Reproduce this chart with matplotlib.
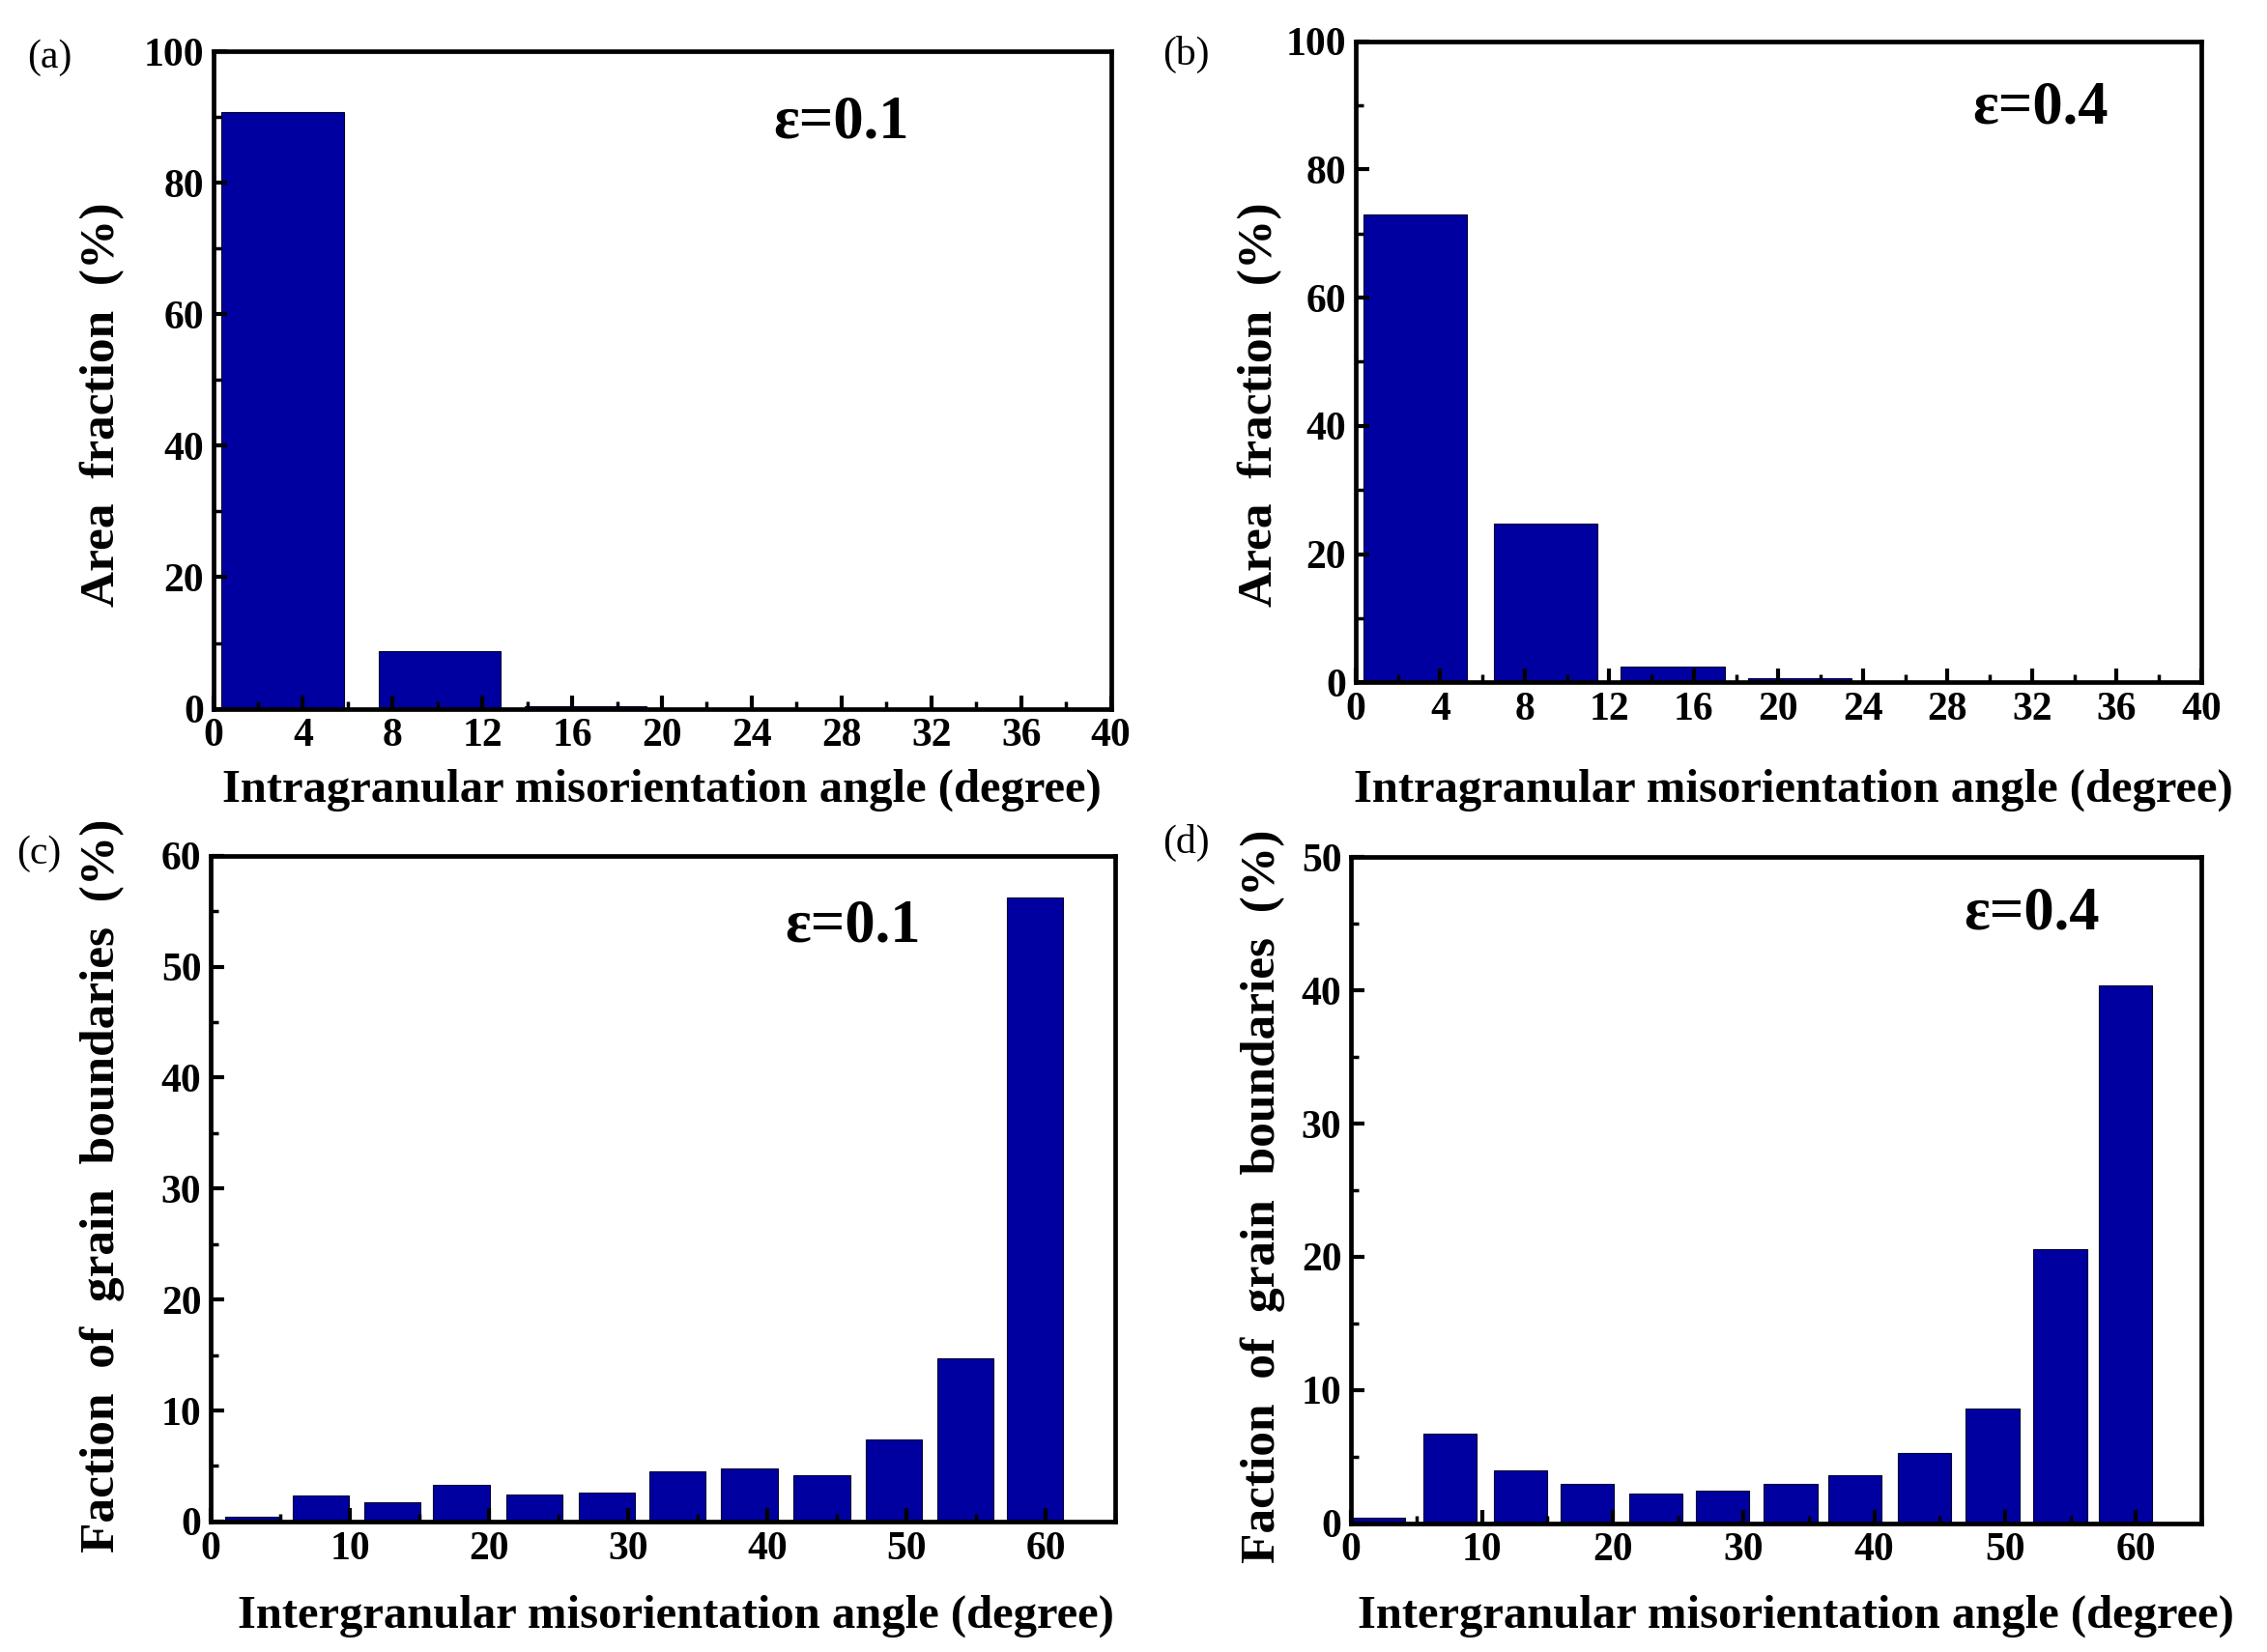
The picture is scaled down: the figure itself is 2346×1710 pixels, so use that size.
import matplotlib
matplotlib.use("Agg")
import matplotlib.pyplot as plt
from matplotlib.ticker import MultipleLocator

plt.rcParams['font.family'] = ['Liberation Serif', 'DejaVu Serif']

# ---- data ----
a_centers = [3.1, 10.1, 16.6]
a_values = [90.7, 8.7, 0.4]

b_centers = [2.8, 9.0, 15.0, 21.0]
b_values = [73.0, 24.8, 2.5, 0.6]

c_centers = [3.05, 7.9, 13.05, 18.0, 23.25, 28.45, 33.55, 38.7, 43.9, 49.1, 54.2, 59.2]
c_values = [0.4, 2.35, 1.7, 3.3, 2.45, 2.6, 4.5, 4.75, 4.2, 7.35, 14.7, 56.2]

d_centers = [2.05, 7.55, 12.95, 18.05, 23.3, 28.4, 33.6, 38.5, 43.85, 49.05, 54.2, 59.2]
d_values = [0.4, 6.75, 3.97, 2.97, 2.25, 2.45, 2.97, 3.57, 5.25, 8.6, 20.55, 40.4]

panel_labels = ['(a)', '(b)', '(c)', '(d)']
annotations = ['ε=0.1', 'ε=0.4', 'ε=0.1', 'ε=0.4']
xlabel_intra = 'Intragranular misorientation angle (degree)'
xlabel_inter = 'Intergranular misorientation angle (degree)'
ylabel_area = 'Area  fraction  (%)'
ylabel_gb = 'Faction  of  grain  boundaries  (%)'

BAR = '#0000A0'

fig = plt.figure(figsize=(23.46, 17.10), dpi=100)

specs = [
    # rect, centers, values, width, xlim, ylim, xmaj, xmin, ymaj, ymin, ann_pos
    ([0.094, 0.571, 0.396, 0.398], a_centers, a_values, 5.45, (0, 40), (0, 100), 4, 2, 20, 10, (0.70, 0.89)),
    ([0.598, 0.587, 0.373, 0.388], b_centers, b_values, 4.9, (0, 40), (0, 100), 4, 2, 20, 10, (0.81, 0.895)),
    ([0.093, 0.079, 0.399, 0.403], c_centers, c_values, 4.05, (0, 65), (0, 60), 10, 5, 10, 5, (0.71, 0.893)),
    ([0.596, 0.078, 0.375, 0.403], d_centers, d_values, 4.1, (0, 65), (0, 50), 10, 5, 10, 5, (0.80, 0.915)),
]

axes = []
for i, (rect, cx, vals, w, xl, yl, xma, xmi, yma, ymi, ap) in enumerate(specs):
    ax = fig.add_axes(rect)
    ax.bar(cx, vals, width=w, color=BAR, edgecolor='#000030', linewidth=0.8)
    ax.set_xlim(*xl)
    ax.set_ylim(*yl)
    ax.xaxis.set_major_locator(MultipleLocator(xma))
    ax.xaxis.set_minor_locator(MultipleLocator(xmi))
    ax.yaxis.set_major_locator(MultipleLocator(yma))
    ax.yaxis.set_minor_locator(MultipleLocator(ymi))
    ax.tick_params(which='both', direction='in', top=False, right=False)
    ax.tick_params(which='major', length=10, width=3, labelsize=30, pad=7)
    ax.tick_params(which='minor', length=6, width=2.5)
    for lab in ax.get_xticklabels() + ax.get_yticklabels():
        lab.set_fontweight('bold')
    for sp in ax.spines.values():
        sp.set_linewidth(3.4)
    ax.text(ap[0], ap[1], annotations[i], transform=ax.transAxes,
            ha='center', va='center', fontsize=45, fontweight='bold')
    axes.append(ax)

# axis labels
fig.text(0.292, 0.522, xlabel_intra, ha='center', va='center', fontsize=35, fontweight='bold')
fig.text(0.791, 0.522, xlabel_intra, ha='center', va='center', fontsize=35, fontweight='bold')
fig.text(0.298, 0.022, xlabel_inter, ha='center', va='center', fontsize=35, fontweight='bold')
fig.text(0.792, 0.022, xlabel_inter, ha='center', va='center', fontsize=35, fontweight='bold')

fig.text(0.045, 0.755, ylabel_area, ha='center', va='center', rotation=90, fontsize=37, fontweight='bold')
fig.text(0.556, 0.755, ylabel_area, ha='center', va='center', rotation=90, fontsize=37, fontweight='bold')
fig.text(0.045, 0.282, ylabel_gb, ha='center', va='center', rotation=90, fontsize=37, fontweight='bold')
fig.text(0.557, 0.276, ylabel_gb, ha='center', va='center', rotation=90, fontsize=37, fontweight='bold')

# panel labels
fig.text(0.022, 0.965, panel_labels[0], ha='center', va='center', fontsize=30)
fig.text(0.523, 0.967, panel_labels[1], ha='center', va='center', fontsize=30)
fig.text(0.017, 0.483, panel_labels[2], ha='center', va='center', fontsize=30)
fig.text(0.523, 0.490, panel_labels[3], ha='center', va='center', fontsize=30)

fig.savefig('out.png', dpi=100)
